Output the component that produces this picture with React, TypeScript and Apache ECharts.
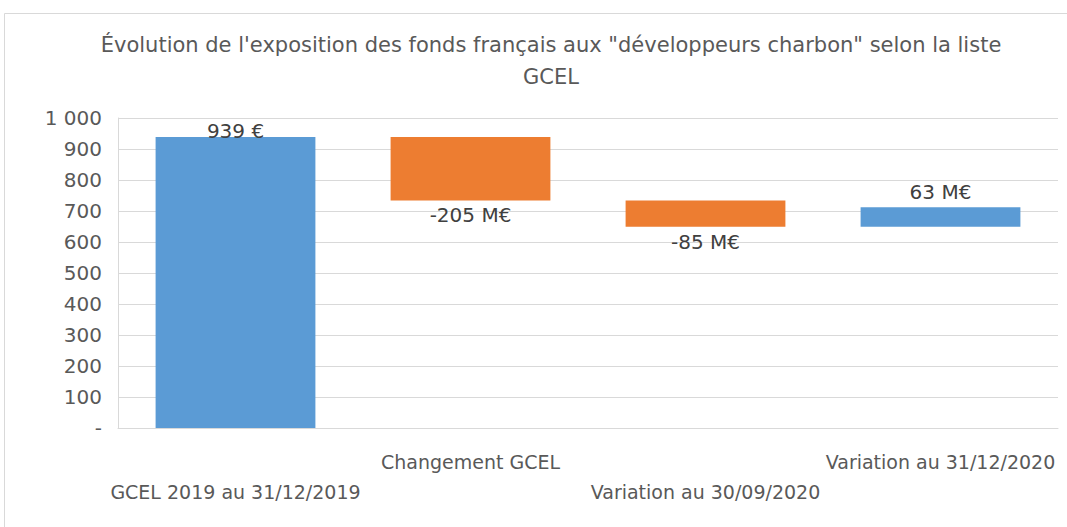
import React, { useEffect, useRef } from "react";
import * as echarts from "echarts";

const titleLines = [
  "Évolution de l'exposition des fonds français aux \"développeurs charbon\" selon la liste",
  "GCEL",
];
const categories = [
  "GCEL 2019 au 31/12/2019",
  "Changement GCEL",
  "Variation au 30/09/2020",
  "Variation au 31/12/2020",
];
const changes = [939, -205, -85, 63];
const labelTexts = ["939 €", "-205 M€", "-85 M€", "63 M€"];
const yTicks = [0, 100, 200, 300, 400, 500, 600, 700, 800, 900, 1000];

const BLUE = "#5B9BD5";
const ORANGE = "#ED7D31";
const FONT = "DejaVu Sans";

export default function App() {
  const ref = useRef<HTMLDivElement>(null);
  useEffect(() => {
    if (!ref.current) return;
    const chart = echarts.init(ref.current, null, { renderer: "svg" });

    const bases: number[] = [];
    const heights: number[] = [];
    let run = 0;
    changes.forEach((c, i) => {
      if (i === 0) {
        bases.push(0);
        heights.push(c);
        run = c;
      } else {
        const next = run + c;
        bases.push(Math.min(run, next));
        heights.push(Math.abs(c));
        run = next;
      }
    });

    const visible = heights.map((h, i) => {
      const neg = changes[i] < 0;
      const isFirst = i === 0;
      return {
        value: h,
        itemStyle: { color: neg ? ORANGE : BLUE },
        label: {
          show: true,
          formatter: labelTexts[i],
          position: neg ? "bottom" : "top",
          distance: isFirst ? -4 : 5,
        },
      };
    });

    chart.setOption({
      animation: false,
      backgroundColor: "#ffffff",
      graphic: [
        {
          type: "rect",
          shape: { x: 4.5, y: 13.5, width: 1070, height: 530 },
          style: { fill: "none", stroke: "#d9d9d9", lineWidth: 1 },
          silent: true,
        },
        {
          type: "text",
          x: 551,
          y: 29,
          silent: true,
          style: {
            text: titleLines.join("\n"),
            align: "center",
            verticalAlign: "top",
            fontFamily: FONT,
            fontSize: 21,
            lineHeight: 32,
            fill: "#595959",
          },
        },
      ],
      grid: { left: 118, right: 9, top: 118, bottom: 99, containLabel: false },
      xAxis: {
        type: "category",
        data: categories,
        axisLine: { show: true, lineStyle: { color: "#d9d9d9", width: 1 } },
        axisTick: { show: false },
        axisLabel: {
          interval: 0,
          margin: 19,
          fontFamily: FONT,
          fontSize: 19,
          color: "#595959",
          lineHeight: 30,
          formatter: (v: string, i: number) => (i % 2 === 0 ? "\n" + v : v),
        },
      },
      yAxis: {
        type: "value",
        min: yTicks[0],
        max: yTicks[yTicks.length - 1],
        interval: 100,
        axisLine: { show: true, lineStyle: { color: "#d9d9d9" } },
        axisTick: { show: false },
        splitLine: { show: true, lineStyle: { color: "#d9d9d9", width: 1 } },
        axisLabel: {
          fontFamily: FONT,
          fontSize: 20,
          color: "#595959",
          margin: 16,
          formatter: (v: number) =>
            v === 0 ? "-" : String(v).replace(/\B(?=(\d{3})+(?!\d))/g, " "),
        },
      },
      series: [
        {
          type: "bar",
          stack: "wf",
          data: bases,
          itemStyle: { color: "transparent" },
          silent: true,
          barWidth: "68%",
        },
        {
          type: "bar",
          stack: "wf",
          data: visible,
          barWidth: "68%",
          label: {
            fontFamily: FONT,
            fontSize: 20,
            color: "#404040",
          },
        },
      ],
    });
    return () => chart.dispose();
  }, []);

  return (
    <div
      ref={ref}
      style={{ position: "fixed", left: 0, top: 0, width: 1067, height: 527 }}
    />
  );
}
